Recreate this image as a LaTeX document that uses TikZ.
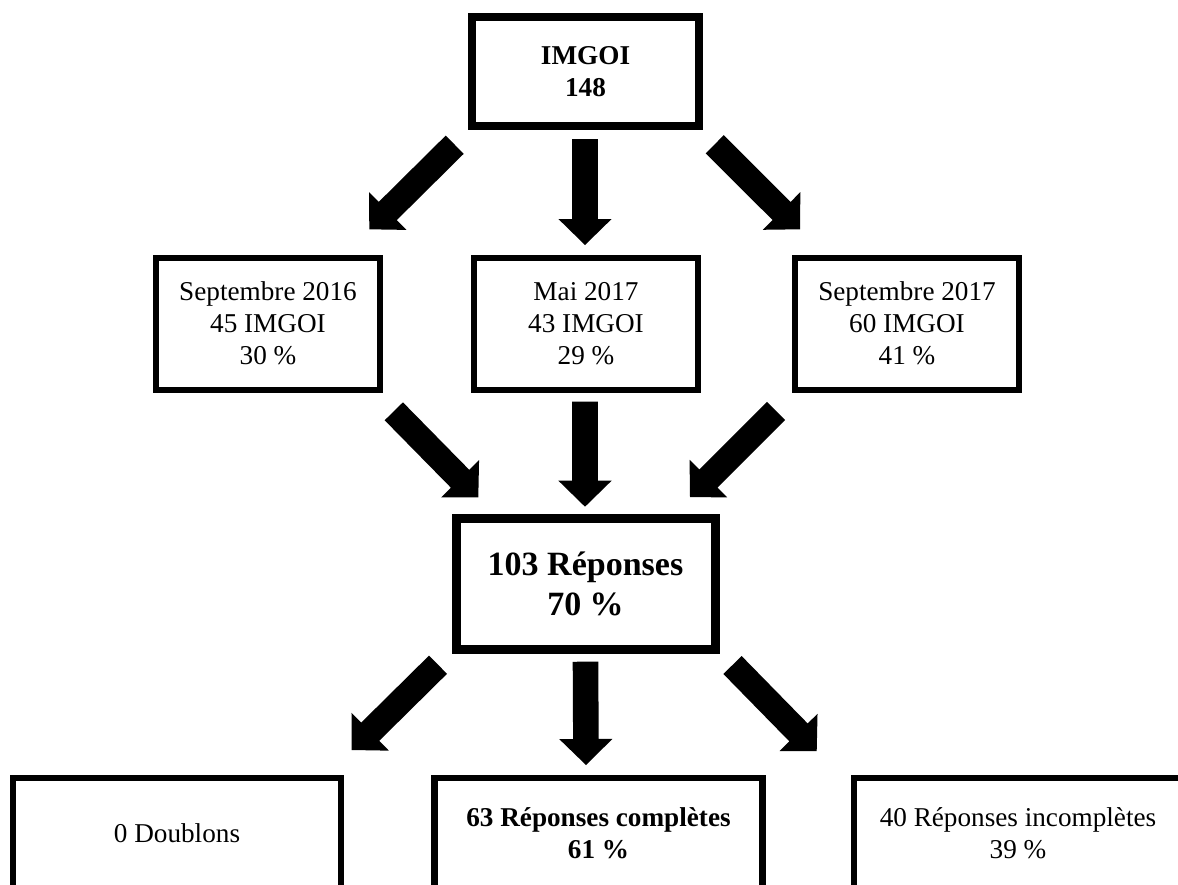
\documentclass[tikz,border=0pt]{standalone}
\usepackage{fontspec}
\setmainfont{Liberation Serif}
\usetikzlibrary{calc}

\begin{document}
\begin{tikzpicture}[x = 0.5pt, y = -0.5pt,
	box/.style = {draw, line width = 3pt, outer sep = 0pt, align = center, font = \fontsize{13.6}{16}\selectfont},
	bigarrow/.style = {fill = black, to path = {
		-- ($(\tikztostart)!6.4pt!90:(\tikztotarget)$)
		-- ($(\tikztotarget)!13pt!(\tikztostart)!6.4pt!90:(\tikztotarget)$)
		-- ($(\tikztotarget)!13pt!(\tikztostart)!13.3pt!90:(\tikztotarget)$)
		-- (\tikztotarget)
		-- ($(\tikztotarget)!13pt!(\tikztostart)!13.3pt!-90:(\tikztotarget)$)
		-- ($(\tikztotarget)!13pt!(\tikztostart)!6.4pt!-90:(\tikztotarget)$)
		-- ($(\tikztostart)!6.4pt!-90:(\tikztotarget)$)
		-- cycle}}]
	\clip (0,0) rectangle (1178,884);
	% boxes
	\node[box, line width = 4.25pt, minimum width = 113.5pt, minimum height = 54.5pt] (imgoi) at (585.5,71.5) {\textbf{IMGOI}\\\textbf{148}};
	\node[box, minimum width = 112pt, minimum height = 66pt] (sep16) at (268,323.5) {Septembre 2016\\45 IMGOI\\30 \%};
	\node[box, minimum width = 112pt, minimum height = 66pt] (mai17) at (586,323.5) {Mai 2017\\43 IMGOI\\29 \%};
	\node[box, minimum width = 112pt, minimum height = 66pt] (sep17) at (907,323.5) {Septembre 2017\\60 IMGOI\\41 \%};
	\node[box, line width = 4.5pt, minimum width = 129.5pt, minimum height = 65.5pt, font = \fontsize{17}{20.3}\selectfont\bfseries] (rep) at (585.5,584) {103 Réponses\\70 \%};
	\node[box, line width = 3.25pt, minimum width = 164pt, minimum height = 55pt] (doub) at (177,833) {0 Doublons};
	\node[box, line width = 3.25pt, minimum width = 164pt, minimum height = 55pt, font = \fontsize{13.6}{16}\selectfont\bfseries] (comp) at (598.5,833) {63 Réponses complètes\\61 \%};
	\node[box, line width = 3.25pt, minimum width = 164pt, minimum height = 55pt] (incomp) at (1018,833) {40 Réponses incomplètes\\39 \%};
	% arrows
	\path[bigarrow] ([shift = {(-17.3,18.7)}]imgoi.south west) to ([shift = {(-10.7,-28.2)}]sep16.north east);
	\path[bigarrow] ([shift = {(-0.5,13)}]imgoi.south) to ([shift = {(-1,-12.5)}]mai17.north);
	\path[bigarrow] ([shift = {(15.7,18.3)}]imgoi.south east) to ([shift = {(5,-28.2)}]sep17.north west);
	\path[bigarrow] ([shift = {(13.8,21.8)}]sep16.south east) to ([shift = {(22.3,-21.2)}]rep.north west);
	\path[bigarrow] ([shift = {(-1,12.2)}]mai17.south) to ([shift = {(-0.5,-11.8)}]rep.north);
	\path[bigarrow] ([shift = {(-19,21.5)}]sep17.south west) to ([shift = {(-25,-21.5)}]rep.north east);
	\path[bigarrow] ([shift = {(-18,15.2)}]rep.south west) to ([shift = {(10.7,-28)}]doub.north east);
	\path[bigarrow] ([shift = {(0,12.2)}]rep.south) to ([shift = {(-12.5,-13)}]comp.north);
	\path[bigarrow] ([shift = {(17.5,15.5)}]rep.south east) to ([shift = {(-37.3,-27)}]incomp.north west);
\end{tikzpicture}
\end{document}
